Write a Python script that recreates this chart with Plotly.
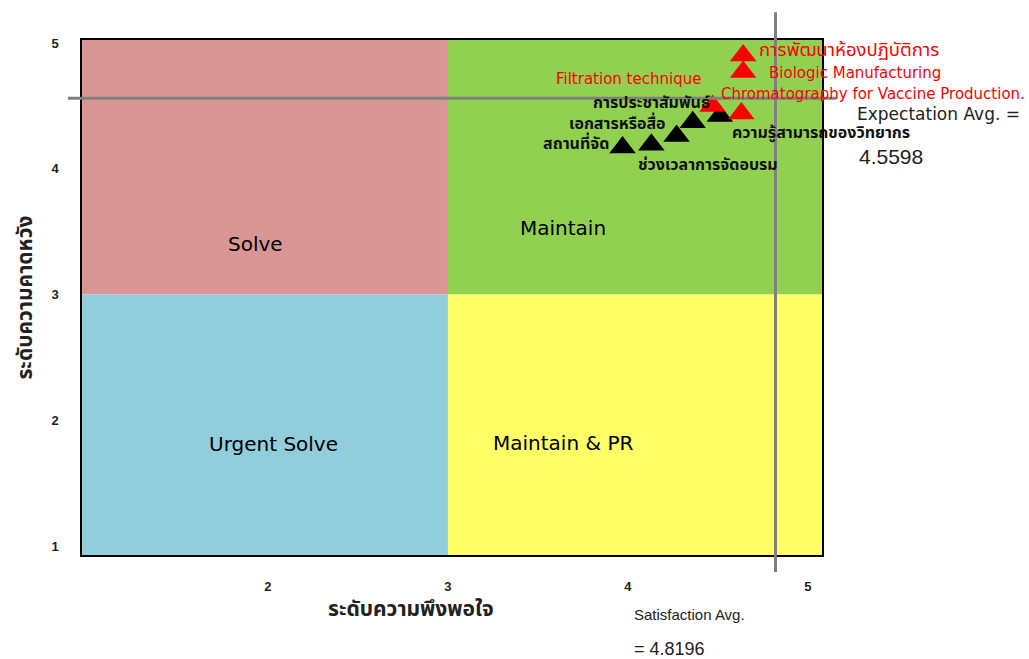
import plotly.graph_objects as go

# Training evaluation items: satisfaction (x) vs expectation (y)
red_items = ["การพัฒนาห้องปฏิบัติการ", "Biologic Manufacturing",
             "Filtration technique", "Chromatography for Vaccine Production."]
red_sat = [4.64, 4.64, 4.47, 4.63]
red_exp = [4.90, 4.77, 4.50, 4.44]

black_items = ["ความรู้สามารถของวิทยากร", "การประชาสัมพันธ์", "เอกสารหรือสื่อ",
               "ช่วงเวลาการจัดอบรม", "สถานที่จัด"]
black_sat = [4.51, 4.36, 4.27, 4.13, 3.97]
black_exp = [4.42, 4.37, 4.26, 4.19, 4.17]

sat_avg = 4.8196
exp_avg = 4.5598

# Quadrants: bounds, colour, label and label position
quad_x0 = [0.9, 3, 0.9, 3]
quad_x1 = [3, 5.2, 3, 5.2]
quad_y0 = [3, 3, 0.9, 0.9]
quad_y1 = [5.2, 5.2, 3, 3]
quad_col = ["#D99694", "#92D050", "#92CDDC", "#FFFF66"]
quad_lab = ["Solve", "Maintain", "Urgent Solve", "Maintain & PR"]
quad_lab_x = [1.93, 3.64, 2.03, 3.64]
quad_lab_y = [3.40, 3.53, 1.81, 1.82]

x_ticks = [2, 3, 4, 5]
y_ticks = [1, 2, 3, 4, 5]

THAI = "Noto Sans Thai, Tahoma, DejaVu Sans, sans-serif"
LATIN = "DejaVu Sans, sans-serif"

fig = go.Figure()

shapes = []
for i in range(4):
    shapes.append(dict(type="rect", xref="x", yref="y", layer="below",
                       x0=quad_x0[i], x1=quad_x1[i], y0=quad_y0[i], y1=quad_y1[i],
                       fillcolor=quad_col[i], line=dict(width=0)))

# average lines, running past the plot frame
shapes.append(dict(type="line", xref="x", yref="paper", x0=sat_avg, x1=sat_avg,
                   y0=-0.033, y1=1.054, line=dict(color="#808080", width=3)))
shapes.append(dict(type="line", xref="paper", yref="y", x0=-0.019, x1=1.019,
                   y0=exp_avg, y1=exp_avg, line=dict(color="#808080", width=3)))

fig.add_trace(go.Scatter(x=black_sat, y=black_exp, mode="markers",
                         marker=dict(symbol="triangle-up", size=23, color="black"),
                         hovertext=black_items, showlegend=False))
fig.add_trace(go.Scatter(x=red_sat, y=red_exp, mode="markers",
                         marker=dict(symbol="triangle-up", size=23, color="#FF0000"),
                         hovertext=red_items, showlegend=False))

ann = []
for i in range(4):
    ann.append(dict(x=quad_lab_x[i], y=quad_lab_y[i], xref="x", yref="y",
                    text=quad_lab[i], showarrow=False, yanchor="middle",
                    font=dict(size=20, color="black", family=LATIN)))

# point labels: (xanchor, xshift, yshift, font size)
red_pos = [("left", 14, 6, 18.5), ("left", 24, -1, 15),
           ("right", -10, 27, 15), ("left", -22, 19, 15)]
black_pos = [("left", 10, -17), ("right", 19, 19), ("right", -9, 12),
             ("left", -15, -20), ("right", -12, 3)]
for name, xv, yv, (xa, xs, ys, fs) in zip(red_items, red_sat, red_exp, red_pos):
    ann.append(dict(x=xv, y=yv, xref="x", yref="y", text=name, showarrow=False,
                    xanchor=xa, yanchor="middle", xshift=xs, yshift=ys,
                    font=dict(size=fs, color="#FF0000",
                              family=THAI if fs > 16 else LATIN)))
for name, xv, yv, (xa, xs, ys) in zip(black_items, black_sat, black_exp, black_pos):
    ann.append(dict(x=xv, y=yv, xref="x", yref="y", text="<b>" + name + "</b>",
                    showarrow=False, xanchor=xa, yanchor="middle", xshift=xs, yshift=ys,
                    font=dict(size=16, color="#111111", family=THAI)))

# average annotations
ann.append(dict(x=1.045, y=exp_avg, xref="paper", yref="y", xanchor="left",
                yanchor="middle", text="Expectation Avg. =", showarrow=False,
                yshift=-16, font=dict(size=17, color="#222222", family=LATIN)))
ann.append(dict(x=1.047, y=exp_avg, xref="paper", yref="y", xanchor="left",
                yanchor="middle", text=f"{exp_avg:.4f}", showarrow=False, yshift=-58,
                font=dict(size=21, color="#222222", family="Liberation Sans")))
ann.append(dict(x=0.743, y=-0.115, xref="paper", yref="paper", xanchor="left",
                yanchor="middle", text="Satisfaction Avg.", showarrow=False,
                font=dict(size=15, color="#222222", family="Liberation Sans")))
ann.append(dict(x=0.743, y=-0.182, xref="paper", yref="paper", xanchor="left",
                yanchor="middle", text=f"= {sat_avg:.4f}", showarrow=False,
                font=dict(size=18, color="#222222", family="Liberation Sans")))

# axis titles
ann.append(dict(x=0.444, y=-0.105, xref="paper", yref="paper",
                xanchor="center", yanchor="middle",
                text="<b>ระดับความพึงพอใจ</b>", showarrow=False,
                font=dict(size=21, color="#222222", family=THAI)))
ann.append(dict(x=-0.077, y=0.5, xref="paper", yref="paper", textangle=-90,
                xanchor="center", yanchor="middle",
                text="<b>ระดับความคาดหวัง</b>", showarrow=False,
                font=dict(size=21, color="#222222", family=THAI)))

axis_style = dict(showgrid=False, zeroline=False,
                  showline=True, mirror=True, linecolor="black", linewidth=1.5,
                  ticks="outside", ticklen=19, tickcolor="rgba(0,0,0,0)",
                  tickfont=dict(size=13, color="#222222", family="Liberation Sans",
                                weight="bold"))

fig.update_layout(
    width=1029, height=659,
    margin=dict(l=82, r=207, t=40, b=104),
    paper_bgcolor="white", plot_bgcolor="white",
    shapes=shapes, annotations=ann,
    xaxis=dict(range=[0.967, 5.078], tickvals=x_ticks, **axis_style),
    yaxis=dict(range=[0.928, 5.024], tickvals=y_ticks, **axis_style),
)

fig.write_html("out.html")
